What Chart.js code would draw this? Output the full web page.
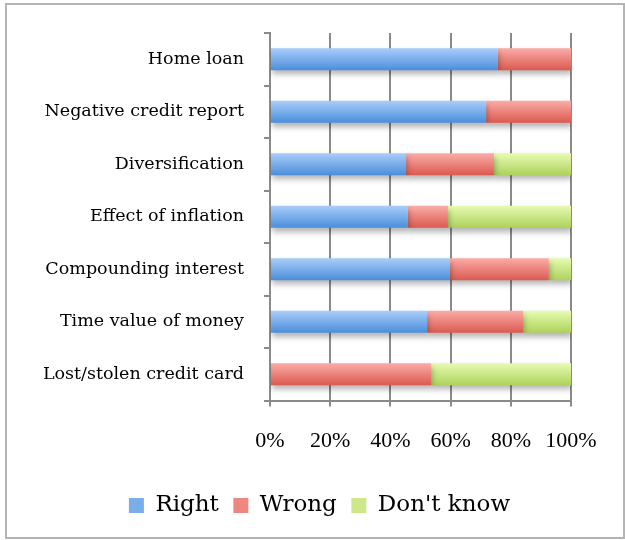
<!DOCTYPE html>
<html>
<head>
<meta charset="utf-8">
<script src="https://cdn.jsdelivr.net/npm/chart.js@4"></script>
<style>
  html, body { margin: 0; padding: 0; background: #fff; }
  #wrap { position: relative; width: 625px; height: 540px; }
  #frame {
    position: absolute; left: 5px; top: 3px; width: 620px; height: 536px;
    border: 2px solid #b4b4b4; box-sizing: border-box; pointer-events: none;
  }
</style>
</head>
<body>
<div id="wrap">
  <canvas id="quiz"></canvas>
  <div id="frame"></div>
</div>
<script>
// Survey answers per question, in percent
const questions = [
  'Home loan',
  'Negative credit report',
  'Diversification',
  'Effect of inflation',
  'Compounding interest',
  'Time value of money',
  'Lost/stolen credit card'
];
const right = [75.7, 71.8, 45.2, 45.8, 59.8, 52.2, 0];
const wrong = [24.3, 28.2, 29.2, 13.3, 32.8, 31.9, 53.5];
const dontKnow = [0, 0, 25.6, 40.9, 7.4, 15.9, 46.5];
const xTicks = [0, 20, 40, 60, 80, 100];

const BAR_SHARE = 0.415;
const serifWide = '"DejaVu Serif", serif';
const serifNarrow = '"Liberation Serif", serif';

// vertical gradient that follows each bar
function fade(top, bottom, flat) {
  return (c) => {
    const chart = c.chart;
    const y = chart.scales.y;
    if (c.type !== 'data' || !chart.chartArea || !y) return flat;
    const mid = y.getPixelForValue(c.dataIndex);
    const half = (y.height / questions.length) * BAR_SHARE / 2;
    const g = chart.ctx.createLinearGradient(0, mid - half, 0, mid + half);
    g.addColorStop(0, top);
    g.addColorStop(1, bottom);
    return g;
  };
}

// soft drop shadow under the bars
const barShadow = {
  id: 'barShadow',
  beforeDatasetsDraw(chart) {
    const ctx = chart.ctx;
    ctx.save();
    ctx.shadowColor = 'rgba(0,0,0,0.3)';
    ctx.shadowBlur = 6;
    ctx.shadowOffsetX = 1;
    ctx.shadowOffsetY = 4;
  },
  afterDatasetsDraw(chart) {
    chart.ctx.restore();
  }
};

// centre the legend under the whole frame rather than under the chart box
const legendNudge = {
  id: 'legendNudge',
  afterLayout(chart) {
    const lg = chart.legend;
    if (!lg) return;
    lg.left += 34;
    lg.right += 34;
  }
};

const gridGray = '#8a8a8a';

new Chart(document.getElementById('quiz'), {
  type: 'bar',
  data: {
    labels: questions,
    datasets: [
      { label: 'Right', data: right, backgroundColor: fade('#a9cdfa', '#4b8edb', '#7aaeeb') },
      { label: 'Wrong', data: wrong, backgroundColor: fade('#fbaca7', '#db5a50', '#ee8780') },
      { label: "Don't know", data: dontKnow, backgroundColor: fade('#e7fbb1', '#add25c', '#cde78a') }
    ]
  },
  options: {
    indexAxis: 'y',
    responsive: true,
    maintainAspectRatio: false,
    animation: false,
    categoryPercentage: 1,
    barPercentage: BAR_SHARE,
    layout: { padding: { left: 0, top: 33, right: 54, bottom: 13 } },
    scales: {
      x: {
        stacked: true,
        min: 0,
        max: 100,
        afterBuildTicks: (axis) => { axis.ticks = xTicks.map(v => ({ value: v })); },
        afterFit: (axis) => { axis.height = 79; },
        ticks: {
          color: '#000',
          padding: 22,
          font: { family: serifNarrow, size: 22 },
          callback: (v) => v + '%'
        },
        grid: { color: gridGray, lineWidth: 2, tickLength: 6 },
        border: { color: gridGray, width: 2 }
      },
      y: {
        stacked: true,
        afterFit: (axis) => { axis.width = 270; },
        ticks: {
          color: '#000',
          padding: 20,
          font: { family: serifWide, size: 17.5 }
        },
        grid: { drawOnChartArea: false, color: gridGray, lineWidth: 2, tickLength: 6 },
        border: { color: gridGray, width: 2 }
      }
    },
    plugins: {
      tooltip: { enabled: false },
      legend: {
        position: 'bottom',
        labels: {
          color: '#000',
          boxWidth: 15,
          boxHeight: 15,
          padding: 14.5,
          font: { family: serifWide, size: 23 },
          generateLabels: (chart) => {
            const items = Chart.defaults.plugins.legend.labels.generateLabels(chart);
            const solid = ['#7aaeeb', '#ee8780', '#cde78a'];
            items.forEach((it, i) => { it.fillStyle = solid[i]; it.strokeStyle = 'rgba(0,0,0,0)'; it.lineWidth = 0; });
            return items;
          }
        }
      }
    }
  },
  plugins: [barShadow, legendNudge]
});
</script>
</body>
</html>
